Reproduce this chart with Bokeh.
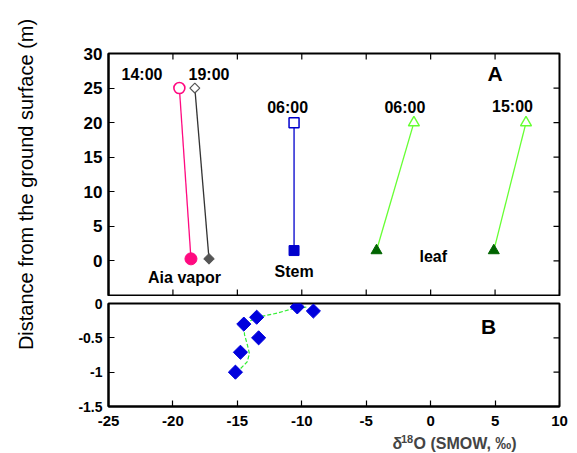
import numpy as np
from bokeh.plotting import figure
from bokeh.models import Range1d, LinearAxis, FixedTicker, Label
from bokeh.layouts import column, row
from bokeh.core.properties import value
from bokeh.embed import file_html
from bokeh.resources import INLINE

# ---------------- data ----------------
# Panel A: (delta18O, height) pairs, first = upper point, second = lower point
vapor1400_x = [-19.5, -18.6]
vapor1400_y = [25, 0.3]
vapor1900_x = [-18.3, -17.2]
vapor1900_y = [25, 0.3]
stem_x = [-10.6, -10.6]
stem_y = [20, 1.5]
leaf0600_x = [-1.3, -4.2]
leaf0600_y = [20, 1.5]
leaf1500_x = [7.4, 4.9]
leaf1500_y = [20, 1.5]

# Panel B: soil water
soil_x = [-15.15, -14.76, -13.35, -14.5, -13.5, -9.1, -10.35]
soil_y = [-1.0, -0.71, -0.5, -0.3, -0.2, -0.11, -0.05]
fit_x = [-15.15, -14.76, -14.24, -14.06, -14.24, -14.45, -14.45, -14.1, -13.2, -11.9, -10.6, -9.5]
fit_y = [-0.99, -0.95, -0.85, -0.73, -0.59, -0.45, -0.33, -0.26, -0.19, -0.14, -0.07, -0.05]

x_ticks = [-25, -20, -15, -10, -5, 0, 5, 10]
x_tick_labels = ["-25", "-20", "-15", "-10", "-5", "0", "5", "10"]
ya_ticks = [0, 5, 10, 15, 20, 25, 30]
ya_tick_labels = ["0", "5", "10", "15", "20", "25", "30"]
yb_ticks = [-1.5, -1.0, -0.5, 0.0]
yb_tick_labels = ["-1.5", "-1", "-0.5", "0"]

FONT = "Liberation Sans"
PINK = "#ff0a80"
GRAY_L = "#333333"
GRAY_M = "#555555"
BLUE = "#0000cc"
LGREEN = "#66ff33"
DGREEN = "#006400"

LEFT_W = 40          # width of the column holding the y-axis title
BL, BR = 68, 18      # borders around the plot frames


def style_axis(ax, ticks, labels, size):
    ax.ticker = FixedTicker(ticks=ticks)
    ax.major_tick_in = 6
    ax.major_tick_out = 0
    ax.minor_tick_in = 0
    ax.minor_tick_out = 0
    ax.axis_line_width = 2
    ax.major_tick_line_width = 1.2
    ax.major_label_overrides = {t: l for t, l in zip(ticks, labels)}
    ax.major_label_text_font = FONT
    ax.major_label_text_font_style = "bold"
    ax.major_label_text_font_size = size
    ax.major_label_text_color = "black"
    ax.major_label_standoff = 6


def base_fig(height, y_range, top, bottom, x_range):
    p = figure(width=577 - LEFT_W, height=height, x_range=x_range,
               y_range=y_range, output_backend="svg", toolbar_location=None,
               min_border_left=BL, min_border_right=BR,
               min_border_top=top, min_border_bottom=bottom,
               x_axis_location=None, y_axis_location=None)
    p.xgrid.visible = False
    p.ygrid.visible = False
    p.outline_line_color = "black"
    p.outline_line_width = 2
    p.background_fill_color = "white"
    p.border_fill_color = "white"
    return p


def inner_ticks(p, xs=None, x_edge=None, ys=None, y_edge=None):
    # tick marks drawn inward on an edge (outer half is clipped by the frame)
    if xs is not None:
        p.scatter(xs, [y_edge] * len(xs), marker="dash", angle=np.pi / 2, size=12,
                  line_color="black", line_width=1.2)
    if ys is not None:
        p.scatter([x_edge] * len(ys), ys, marker="dash", size=12,
                  line_color="black", line_width=1.2)


xr = Range1d(-25, 10)

# ---------------- panel A ----------------
ya_range = Range1d(-5, 30)
pA = base_fig(296, ya_range, 53, 1, xr)
left = LinearAxis()
style_axis(left, ya_ticks, ya_tick_labels, "17px")
pA.add_layout(left, "left")
inner_ticks(pA, ys=ya_ticks, x_edge=xr.end)
inner_ticks(pA, xs=x_ticks, y_edge=ya_range.end)
inner_ticks(pA, xs=x_ticks, y_edge=ya_range.start)

pA.line(vapor1400_x, vapor1400_y, line_color=PINK, line_width=1.3)
pA.line(vapor1900_x, vapor1900_y, line_color=GRAY_L, line_width=1.3)
pA.line(stem_x, stem_y, line_color=BLUE, line_width=1.3)
pA.line(leaf0600_x, leaf0600_y, line_color=LGREEN, line_width=1.3)
pA.line(leaf1500_x, leaf1500_y, line_color=LGREEN, line_width=1.3)

pA.scatter(vapor1400_x[:1], vapor1400_y[:1], marker="circle", size=11,
           line_color=PINK, fill_color="white", line_width=1.6)
pA.scatter(vapor1400_x[1:], vapor1400_y[1:], marker="circle", size=12,
           line_color=PINK, fill_color=PINK)
pA.scatter(vapor1900_x[:1], vapor1900_y[:1], marker="square", angle=np.pi / 4, size=7,
           line_color=GRAY_M, fill_color="white", line_width=1.2)
pA.scatter(vapor1900_x[1:], vapor1900_y[1:], marker="square", angle=np.pi / 4, size=7.5,
           line_color=GRAY_M, fill_color=GRAY_M)
pA.scatter(stem_x[:1], stem_y[:1], marker="square", size=10,
           line_color=BLUE, fill_color="white", line_width=1.5)
pA.scatter(stem_x[1:], stem_y[1:], marker="square", size=10,
           line_color=BLUE, fill_color=BLUE)
for xs, ys in [(leaf0600_x, leaf0600_y), (leaf1500_x, leaf1500_y)]:
    pA.scatter(xs[:1], ys[:1], marker="triangle", size=11,
               line_color=LGREEN, fill_color="white", line_width=1.4)
    pA.scatter(xs[1:], ys[1:], marker="triangle", size=11,
               line_color=DGREEN, fill_color=DGREEN)

pA.text(x=[-22.4, -17.2, -11.1, -2.0, 6.35, -19.1, -10.6, 0.2],
        y=[27.0, 27.0, 22.2, 22.2, 22.3, -2.4, -1.6, 0.6],
        text=["14:00", "19:00", "06:00", "06:00", "15:00", "Aia vapor", "Stem", "leaf"],
        text_font=value(FONT), text_font_style="bold", text_font_size="16px",
        text_align="center", text_baseline="middle", text_color="black")
pA.text(x=[5.0], y=[27.1], text=["A"], text_font=value(FONT), text_font_style="bold",
        text_font_size="21px", text_align="center", text_baseline="middle")

# ---------------- panel B ----------------
yb_range = Range1d(-1.5, 0)
pB = base_fig(136, yb_range, 7, 26, xr)
leftB = LinearAxis()
style_axis(leftB, yb_ticks, yb_tick_labels, "14px")
pB.add_layout(leftB, "left")
botB = LinearAxis()
style_axis(botB, x_ticks, x_tick_labels, "15px")
botB.major_label_standoff = 9
pB.add_layout(botB, "below")
inner_ticks(pB, ys=yb_ticks, x_edge=xr.end)

pB.line(fit_x, fit_y, line_color="#33ee33", line_width=1.2, line_dash="4 2")
pB.scatter(soil_x, soil_y, marker="square", angle=np.pi / 4, size=10,
           line_color="#0000dd", fill_color="#0000dd")
pB.text(x=[4.5], y=[-0.33], text=["B"], text_font=value(FONT), text_font_style="bold",
        text_font_size="21px", text_align="center", text_baseline="middle")

# ---------------- x-axis title strip ----------------
px = figure(width=577 - LEFT_W, height=21, x_range=xr, y_range=Range1d(0, 21),
            output_backend="svg", toolbar_location=None,
            min_border_left=BL, min_border_right=BR, min_border_top=0, min_border_bottom=0,
            x_axis_location=None, y_axis_location=None)
px.xgrid.visible = False
px.ygrid.visible = False
px.outline_line_color = None
px.add_layout(Label(x=-2.96, y=10, text="δ", text_font=FONT, text_font_style="bold",
                    text_font_size="16px", text_baseline="middle", text_align="left"))
px.add_layout(Label(x=-2.31, y=15, text="18", text_font=FONT, text_font_style="bold",
                    text_font_size="11px", text_baseline="middle", text_align="left"))
px.add_layout(Label(x=-1.33, y=10, text="O (SMOW, ‰)", text_font=FONT,
                    text_font_style="bold", text_font_size="16px",
                    text_baseline="middle", text_align="left"))

# ---------------- y-axis title strip ----------------
py = figure(width=LEFT_W, height=453, x_range=Range1d(0, LEFT_W), y_range=Range1d(0, 453),
            output_backend="svg", toolbar_location=None,
            min_border_left=0, min_border_right=0, min_border_top=0, min_border_bottom=0,
            x_axis_location=None, y_axis_location=None)
py.xgrid.visible = False
py.ygrid.visible = False
py.outline_line_color = None
py.add_layout(Label(x=25, y=453 - 184, text="Distance from the ground surface (m)",
                    angle=np.pi / 2, text_font=FONT, text_font_size="20px",
                    text_align="center", text_baseline="middle", text_color="black"))

layout = row(py, column(pA, pB, px))
open("out.html", "w").write(file_html(layout, INLINE))
